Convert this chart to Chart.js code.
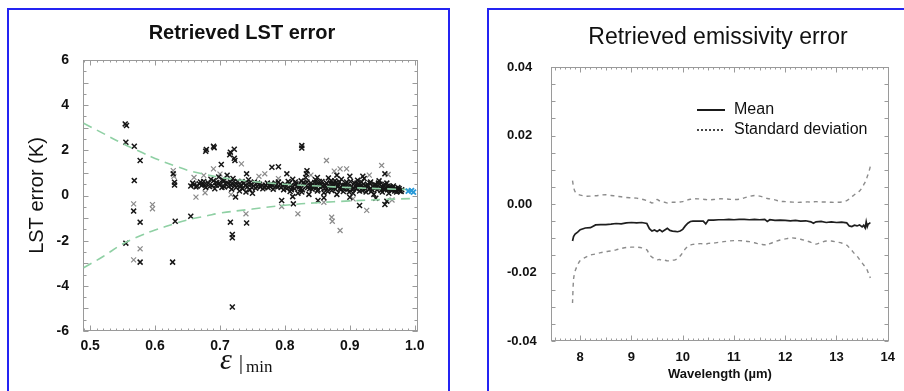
<!DOCTYPE html>
<html>
<head>
<meta charset="utf-8">
<script src="https://cdn.jsdelivr.net/npm/chart.js@4.4.1/dist/chart.umd.min.js"></script>
<style>
html, body { margin: 0; padding: 0; background: #fff; width: 904px; height: 391px; overflow: hidden; }
.panel { position: absolute; border: 2px solid #2424f2; box-sizing: border-box; }
#panelL { left: 7px; top: 8px; width: 443px; height: 400px; }
#panelR { left: 487px; top: 8px; width: 440px; height: 400px; }
canvas { position: absolute; top: 0; }
#lstChart { left: 0; }
#emisChart { left: 452px; }
</style>
</head>
<body>
<div class="panel" id="panelL"></div>
<div class="panel" id="panelR"></div>
<canvas id="lstChart" width="452" height="391"></canvas>
<canvas id="emisChart" width="452" height="391"></canvas>
<script>
Chart.defaults.font.family = "'Liberation Sans', Arial, sans-serif";
Chart.defaults.color = "#111111";
Chart.defaults.animation = false;

// ---- left panel: LST error vs minimum emissivity ----
const lstXTicks = [0.5, 0.6, 0.7, 0.8, 0.9, 1.0];

const envX = [0.49, 0.52, 0.55, 0.58, 0.6, 0.63, 0.65, 0.68, 0.7, 0.75, 0.8, 0.85, 0.9, 0.95, 1.0];
const envUpper = [3.2, 2.75, 2.3, 1.9, 1.64, 1.32, 1.12, 0.92, 0.8, 0.62, 0.5, 0.42, 0.35, 0.3, 0.25];
const envLower = [-3.2, -2.7, -2.15, -1.75, -1.53, -1.25, -1.08, -0.9, -0.78, -0.6, -0.43, -0.32, -0.24, -0.18, -0.13];

const darkMarks = [
    [0.554, 3.17], [0.556, 3.10], [0.555, 2.36], [0.568, 2.18], [0.577, 1.55], [0.568, 0.66],
    [0.567, -0.69], [0.577, -1.18], [0.555, -2.11], [0.577, -2.95], [0.628, 0.96], [0.630, 0.59],
    [0.630, 0.46], [0.631, -1.14], [0.627, -2.95], [0.655, -0.92], [0.678, 1.96], [0.679, 2.04],
    [0.690, 2.18], [0.691, 2.12], [0.702, 1.37], [0.715, 1.80], [0.716, 1.92], [0.722, 2.05],
    [0.722, 1.65], [0.723, 1.55], [0.716, -1.18], [0.719, -1.73], [0.719, -1.87], [0.719, -4.94],
    [0.724, -0.07], [0.741, 0.96], [0.741, -1.22], [0.780, 1.25], [0.790, 1.27], [0.795, -0.22],
    [0.803, 0.96], [0.813, -0.37], [0.826, 2.21], [0.826, 2.10], [0.833, 0.96], [0.834, 1.10],
    [0.851, -0.22], [0.915, -0.44], [0.954, -0.40], [0.957, -0.25], [0.954, 0.96],
    // cluster 0.65 - 0.80
    [0.655, 0.42], [0.660, 0.48], [0.663, 0.38], [0.668, 0.52], [0.672, 0.45], [0.675, 0.62],
    [0.678, 0.35], [0.682, 0.55], [0.686, 0.72], [0.688, 0.43], [0.692, 0.30], [0.695, 0.58],
    [0.698, 0.82], [0.700, 0.47], [0.703, 0.36], [0.706, 0.65], [0.708, 0.52], [0.711, 0.90],
    [0.713, 0.40], [0.716, 0.60], [0.718, 0.28], [0.720, 0.75], [0.722, 0.48], [0.725, 0.35],
    [0.727, 0.62], [0.730, 0.20], [0.732, 0.45], [0.735, 0.30], [0.737, 0.55], [0.740, 0.15],
    [0.742, 0.38], [0.744, 0.70], [0.746, 0.25], [0.748, 0.50], [0.750, 0.10], [0.752, 0.42],
    [0.755, 0.32], [0.758, 0.55], [0.762, 0.38], [0.766, 0.30], [0.770, 0.45], [0.774, 0.35],
    [0.778, 0.50], [0.782, 0.28], [0.786, 0.42], [0.790, 0.60], [0.794, 0.35], [0.798, 0.25],
    [0.800, 0.50],
    [0.658, 0.55], [0.665, 0.42], [0.670, 0.60], [0.676, 0.48], [0.684, 0.40], [0.690, 0.65],
    [0.694, 0.45], [0.699, 0.55], [0.704, 0.70], [0.707, 0.38], [0.712, 0.55], [0.717, 0.45],
    [0.721, 0.62], [0.726, 0.50], [0.731, 0.38], [0.734, 0.62], [0.739, 0.45], [0.745, 0.55],
    [0.749, 0.35], [0.753, 0.60], [0.757, 0.40], [0.761, 0.50], [0.765, 0.45], [0.769, 0.35],
    [0.773, 0.55], [0.777, 0.40], [0.781, 0.45], [0.785, 0.55], [0.789, 0.38], [0.793, 0.50],
    [0.797, 0.42],
    // cluster 0.80 - 0.98
    [0.803, 0.30], [0.805, 0.62], [0.808, 0.18], [0.810, 0.45], [0.812, 0.72], [0.815, 0.30],
    [0.817, 0.52], [0.820, 0.10], [0.822, 0.38], [0.825, 0.65], [0.827, 0.25], [0.830, 0.48],
    [0.832, 0.80], [0.835, 0.35], [0.837, 0.05], [0.840, 0.55], [0.842, 0.28], [0.845, 0.42],
    [0.847, 0.70], [0.850, 0.20], [0.852, 0.50], [0.855, 0.35], [0.857, 0.62], [0.860, 0.12],
    [0.862, 0.45], [0.865, 0.30], [0.867, 0.78], [0.870, 0.55], [0.872, 0.22], [0.875, 0.40],
    [0.877, 0.65], [0.880, 0.05], [0.882, 0.50], [0.885, 0.32], [0.887, 0.72], [0.890, 0.18],
    [0.892, 0.45], [0.895, 0.60], [0.897, 0.28], [0.900, 0.85], [0.902, 0.40], [0.905, 0.10],
    [0.907, 0.55], [0.910, 0.30], [0.912, 0.68], [0.915, 0.20], [0.917, 0.45], [0.920, 0.35],
    [0.922, 0.75], [0.925, 0.15], [0.927, 0.50], [0.930, 0.28], [0.932, 0.60], [0.935, 0.40],
    [0.937, 0.05], [0.940, 0.48], [0.942, 0.25], [0.945, 0.65], [0.947, 0.35], [0.950, 0.15],
    [0.952, 0.45], [0.955, 0.28], [0.957, 0.55], [0.960, 0.10], [0.962, 0.38], [0.965, 0.22],
    [0.967, 0.42], [0.970, 0.30], [0.972, 0.15], [0.975, 0.28], [0.977, 0.20], [0.980, 0.25],
    [0.810, 0.25], [0.818, 0.40], [0.826, 0.15], [0.834, 0.60], [0.843, 0.38], [0.851, 0.25],
    [0.858, 0.42], [0.866, 0.18], [0.873, 0.35], [0.879, 0.58], [0.886, 0.25], [0.893, 0.38],
    [0.899, 0.15], [0.906, 0.32], [0.913, 0.48], [0.919, 0.22], [0.926, 0.40], [0.933, 0.18],
    [0.939, 0.32], [0.946, 0.50], [0.953, 0.30], [0.959, 0.42], [0.964, 0.30], [0.969, 0.20],
    [0.974, 0.35], [0.812, -0.05], [0.860, -0.10], [0.900, -0.08], [0.940, -0.12], [0.880, 0.90],
    [0.920, 0.85], [0.850, 0.80],
    [0.802, 0.42], [0.807, 0.55], [0.811, 0.35], [0.816, 0.60], [0.821, 0.48], [0.824, 0.30],
    [0.829, 0.58], [0.833, 0.42], [0.838, 0.30], [0.841, 0.45], [0.846, 0.58], [0.849, 0.35],
    [0.853, 0.62], [0.856, 0.48], [0.861, 0.30], [0.864, 0.55], [0.868, 0.40], [0.871, 0.65],
    [0.874, 0.50], [0.878, 0.28], [0.881, 0.42], [0.884, 0.60], [0.888, 0.45], [0.891, 0.30],
    [0.894, 0.52], [0.898, 0.40], [0.901, 0.62], [0.904, 0.25], [0.908, 0.42], [0.911, 0.55],
    [0.914, 0.35], [0.918, 0.60], [0.921, 0.50], [0.924, 0.30], [0.928, 0.42], [0.931, 0.55],
    [0.934, 0.25], [0.938, 0.48], [0.941, 0.38], [0.944, 0.55], [0.948, 0.22], [0.951, 0.35],
    [0.954, 0.50], [0.958, 0.25], [0.961, 0.30], [0.966, 0.35], [0.971, 0.25], [0.976, 0.30],
    [0.979, 0.18]
];

const lightMarks = [
    [0.567, -0.37], [0.577, -2.36], [0.567, -2.85], [0.596, -0.40], [0.596, -0.59], [0.628, 1.10],
    [0.629, 0.85], [0.663, -0.07], [0.677, 0.12], [0.690, 1.18], [0.675, 0.89], [0.740, -0.81],
    [0.769, 0.96], [0.795, -0.49], [0.820, -0.81], [0.864, 1.55], [0.872, -0.96], [0.873, -1.14],
    [0.876, 1.08], [0.885, 1.18], [0.895, 1.18], [0.885, -1.55], [0.926, -0.66], [0.949, 1.33],
    [0.959, 0.93], [0.717, 0.04], [0.733, 1.40], [0.700, 0.95], [0.760, 0.85], [0.840, 0.90],
    [0.930, 0.90], [0.905, -0.15], [0.965, -0.20], [0.860, -0.30], [0.790, 0.75], [0.660, 0.80]
];

const blueMarks = [[0.990, 0.19], [0.998, 0.15], [0.995, 0.22]];

// ---- right panel: emissivity error spectrum ----
const emisXTicks = [8, 9, 10, 11, 12, 13, 14];
const emisYTicks = [-0.04, -0.02, 0, 0.02, 0.04];

const wavelengths = [
    7.85, 7.87, 7.9, 7.95, 8.0, 8.1, 8.2, 8.3, 8.4, 8.5, 8.6, 8.7, 8.8, 8.9, 9.0, 9.1, 9.2, 9.3,
    9.35, 9.4, 9.45, 9.5, 9.55, 9.6, 9.65, 9.7, 9.75, 9.8, 9.85, 9.9, 9.95, 10.0, 10.05, 10.1,
    10.15, 10.2, 10.3, 10.4, 10.45, 10.5, 10.6, 10.7, 10.8, 10.9, 11.0, 11.1, 11.2, 11.3, 11.4,
    11.5, 11.6, 11.65, 11.7, 11.8, 11.9, 12.0, 12.1, 12.2, 12.3, 12.4, 12.5, 12.55, 12.6, 12.7,
    12.8, 12.9, 13.0, 13.1, 13.2, 13.25, 13.3, 13.35, 13.4, 13.45, 13.5, 13.53, 13.56, 13.58,
    13.6, 13.62, 13.64, 13.66
];

const meanErr = [
    -0.0108, -0.0095, -0.0088, -0.0082, -0.0075, -0.0070, -0.0069, -0.0061, -0.0060, -0.0060,
    -0.0059, -0.0057, -0.0058, -0.0055, -0.0054, -0.0055, -0.0054, -0.0057, -0.0072, -0.0079,
    -0.0076, -0.0080, -0.0075, -0.0081, -0.0076, -0.0071, -0.0077, -0.0079, -0.0080, -0.0081,
    -0.0079, -0.0074, -0.0064, -0.0056, -0.0051, -0.0050, -0.0050, -0.0050, -0.0058, -0.0047,
    -0.0047, -0.0046, -0.0046, -0.0045, -0.0046, -0.0045, -0.0045, -0.0046, -0.0045, -0.0046,
    -0.0045, -0.0051, -0.0046, -0.0048, -0.0047, -0.0048, -0.0049, -0.0048, -0.0050, -0.0049,
    -0.0052, -0.0056, -0.0052, -0.0051, -0.0054, -0.0052, -0.0054, -0.0053, -0.0055, -0.0064,
    -0.0066, -0.0062, -0.0064, -0.0061, -0.0067, -0.0062, -0.0070, -0.0052, -0.0066, -0.0058,
    -0.0057, -0.0054
];

const stdUpper = [
    0.0068, 0.0050, 0.0036, 0.0029, 0.0026, 0.0023, 0.0023, 0.0024, 0.0026, 0.0027,
    0.0025, 0.0023, 0.0021, 0.0019, 0.0018, 0.0017, 0.0014, 0.0010, 0.0007, 0.0003,
    0.0006, 0.0013, 0.0009, 0.0006, 0.0005, 0.0003, 0.0004, 0.0005, 0.0005, 0.0005,
    0.0006, 0.0007, 0.0009, 0.0012, 0.0014, 0.0015, 0.0015, 0.0014, 0.0013, 0.0012,
    0.0013, 0.0015, 0.0015, 0.0014, 0.0013, 0.0014, 0.0018, 0.0022, 0.0025, 0.0023,
    0.0019, 0.0016, 0.0015, 0.0012, 0.0008, 0.0007, 0.0006, 0.0005, 0.0005, 0.0006,
    0.0006, 0.0006, 0.0007, 0.0006, 0.0006, 0.0005, 0.0005, 0.0006, 0.0010, 0.0015,
    0.0021, 0.0027, 0.0032, 0.0038, 0.0048, 0.0056, 0.0064, 0.0070, 0.0080, 0.0088,
    0.0098, 0.0110
];

const stdLower = [
    -0.0289, -0.0220, -0.0196, -0.0178, -0.0165, -0.0156, -0.0149, -0.0146, -0.0142, -0.0139,
    -0.0137, -0.0134, -0.0130, -0.0127, -0.0126, -0.0126, -0.0128, -0.0134, -0.0148, -0.0155,
    -0.0160, -0.0163, -0.0162, -0.0165, -0.0164, -0.0166, -0.0165, -0.0164, -0.0163, -0.0159,
    -0.0152, -0.0142, -0.0131, -0.0124, -0.0120, -0.0118, -0.0116, -0.0116, -0.0117, -0.0115,
    -0.0114, -0.0112, -0.0110, -0.0108, -0.0107, -0.0107, -0.0108, -0.0110, -0.0113, -0.0117,
    -0.0119, -0.0121, -0.0116, -0.0110, -0.0105, -0.0102, -0.0099, -0.0100, -0.0103, -0.0107,
    -0.0112, -0.0116, -0.0117, -0.0112, -0.0108, -0.0108, -0.0111, -0.0114, -0.0120, -0.0128,
    -0.0136, -0.0145, -0.0152, -0.0162, -0.0172, -0.0178, -0.0183, -0.0187, -0.0193, -0.0201,
    -0.0208, -0.0216
];

function toPoints(xs, ys) {
    return xs.map((x, i) => ({ x: x, y: ys[i] }));
}

function pairsToPoints(pairs) {
    return pairs.map(p => ({ x: p[0], y: p[1] }));
}

function fixedTicks(values) {
    return function(axis) {
        axis.ticks = values.map(v => ({ value: v }));
    };
}

// frame, inward tick marks, free text and the little legend
const decorPlugin = {
    id: "decor",
    beforeDatasetsDraw(chart, args, opts) {
        const { ctx, chartArea: a, scales: { x, y } } = chart;
        ctx.save();
        ctx.strokeStyle = opts.frameColor;
        ctx.lineWidth = 1;
        const L = Math.round(a.left) + 0.5, R = Math.round(a.right) - 0.5;
        const T = Math.round(a.top) + 0.5, B = Math.round(a.bottom) - 0.5;
        ctx.strokeRect(L, T, R - L, B - T);
        ctx.beginPath();
        opts.xMarks.forEach(([step, len]) => {
            const n0 = Math.ceil(x.min / step - 1e-6), n1 = Math.floor(x.max / step + 1e-6);
            for (let n = n0; n <= n1; n++) {
                const px = Math.round(x.getPixelForValue(n * step)) + 0.5;
                ctx.moveTo(px, B); ctx.lineTo(px, B - len);
                ctx.moveTo(px, T); ctx.lineTo(px, T + len);
            }
        });
        opts.yMarks.forEach(([step, len]) => {
            const n0 = Math.ceil(y.min / step - 1e-6), n1 = Math.floor(y.max / step + 1e-6);
            for (let n = n0; n <= n1; n++) {
                const py = Math.round(y.getPixelForValue(n * step)) + 0.5;
                ctx.moveTo(L, py); ctx.lineTo(L + len, py);
                ctx.moveTo(R, py); ctx.lineTo(R - len, py);
            }
        });
        ctx.stroke();
        ctx.restore();
    },
    afterDraw(chart, args, opts) {
        const ctx = chart.ctx;
        ctx.save();
        (opts.texts || []).forEach(t => {
            ctx.font = t.font;
            ctx.fillStyle = t.color || "#111";
            ctx.textAlign = t.align || "center";
            ctx.textBaseline = t.baseline || "middle";
            ctx.fillText(t.text, t.x, t.y);
        });
        const lg = opts.legend;
        if (lg) {
            lg.items.forEach((item, i) => {
                const yy = lg.y + i * lg.dy;
                ctx.beginPath();
                ctx.setLineDash(item.dash);
                ctx.strokeStyle = "#1a1a1a";
                ctx.lineWidth = item.width;
                ctx.moveTo(lg.x, yy);
                ctx.lineTo(lg.x + lg.len, yy);
                ctx.stroke();
                ctx.setLineDash([]);
                ctx.font = lg.font;
                ctx.fillStyle = "#111";
                ctx.textAlign = "left";
                ctx.textBaseline = "middle";
                ctx.fillText(chart.data.datasets[item.ds].label, lg.x + lg.len + 9, yy);
            });
        }
        ctx.restore();
    }
};

function renderLstChart() {
    const canvas = document.getElementById("lstChart");
    new Chart(canvas, {
        type: "scatter",
        data: {
            datasets: [
                {
                    label: "Upper bound",
                    data: toPoints(envX, envUpper),
                    showLine: true,
                    borderColor: "#8fd0a4",
                    borderDash: [9, 6],
                    borderWidth: 1.6,
                    tension: 0.4,
                    pointRadius: 0,
                    order: 1
                },
                {
                    label: "Lower bound",
                    data: toPoints(envX, envLower),
                    showLine: true,
                    borderColor: "#8fd0a4",
                    borderDash: [9, 6],
                    borderWidth: 1.6,
                    tension: 0.4,
                    pointRadius: 0,
                    order: 1
                },
                {
                    label: "Light",
                    data: pairsToPoints(lightMarks),
                    pointStyle: "crossRot",
                    pointRadius: 3.5,
                    borderColor: "#8a8a8a",
                    borderWidth: 1.2,
                    order: 3
                },
                {
                    label: "Dark",
                    data: pairsToPoints(darkMarks),
                    pointStyle: "crossRot",
                    pointRadius: 3.5,
                    borderColor: "#161616",
                    borderWidth: 1.5,
                    order: 2
                },
                {
                    label: "Blue",
                    data: pairsToPoints(blueMarks),
                    pointStyle: "crossRot",
                    pointRadius: 3.5,
                    borderColor: "#2a9ad8",
                    borderWidth: 1.8,
                    order: 0
                }
            ]
        },
        options: {
            responsive: false,
            devicePixelRatio: 1,
            layout: { padding: { top: 60, left: 0, right: 34, bottom: 0 } },
            plugins: {
                legend: { display: false },
                tooltip: { enabled: false },
                decor: {
                    frameColor: "#9a9a9a",
                    xMarks: [[0.01, 2], [0.1, 5]],
                    yMarks: [[0.5, 3], [1, 5]],
                    texts: [
                        { text: "Retrieved LST error", x: 242, y: 33, font: "bold 20px 'Liberation Sans', Arial" },
                        { text: "\u03b5", x: 226, y: 369, baseline: "alphabetic", font: "italic 30px 'Liberation Serif', 'Times New Roman', serif" },
                        { text: "|", x: 241, y: 369, baseline: "alphabetic", font: "22px 'Liberation Serif', 'Times New Roman', serif" },
                        { text: "min", x: 246, y: 372, align: "left", baseline: "alphabetic", font: "17px 'Liberation Serif', 'Times New Roman', serif" }
                    ]
                }
            },
            scales: {
                x: {
                    type: "linear",
                    min: 0.489,
                    max: 1.005,
                    afterBuildTicks: fixedTicks(lstXTicks),
                    afterFit: s => { s.height = 60; },
                    grid: { display: false, drawTicks: false },
                    border: { display: false },
                    ticks: {
                        autoSkip: false,
                        maxRotation: 0,
                        padding: 7,
                        color: "#111",
                        font: { size: 14, weight: "bold" },
                        callback: v => Number(v).toFixed(1)
                    }
                },
                y: {
                    min: -6,
                    max: 6,
                    ticks: {
                        stepSize: 2,
                        padding: 14,
                        color: "#111",
                        font: { size: 14, weight: "bold" },
                        callback: v => String(v)
                    },
                    afterFit: s => { s.width = 83; },
                    grid: { display: false, drawTicks: false },
                    border: { display: false },
                    title: {
                        display: true,
                        text: "LST error (K)",
                        color: "#111",
                        font: { size: 20 },
                        padding: { top: 25, bottom: 0 }
                    }
                }
            }
        },
        plugins: [decorPlugin]
    });
}

function renderEmisChart() {
    const canvas = document.getElementById("emisChart");
    new Chart(canvas, {
        type: "line",
        data: {
            datasets: [
                {
                    label: "Mean",
                    data: toPoints(wavelengths, meanErr),
                    borderColor: "#1e1e1e",
                    borderWidth: 1.7,
                    pointRadius: 0,
                    tension: 0
                },
                {
                    label: "Standard deviation",
                    data: toPoints(wavelengths, stdUpper),
                    borderColor: "#8c8c8c",
                    borderDash: [4, 4],
                    borderWidth: 1.4,
                    pointRadius: 0,
                    tension: 0.3
                },
                {
                    label: "Standard deviation",
                    data: toPoints(wavelengths, stdLower),
                    borderColor: "#8c8c8c",
                    borderDash: [4, 4],
                    borderWidth: 1.4,
                    pointRadius: 0,
                    tension: 0.3
                }
            ]
        },
        options: {
            responsive: false,
            devicePixelRatio: 1,
            layout: { padding: { top: 67, left: 55, right: 9, bottom: 0 } },
            plugins: {
                legend: { display: false },
                tooltip: { enabled: false },
                decor: {
                    frameColor: "#9a9a9a",
                    xMarks: [[0.1, 2], [0.5, 3], [1, 5]],
                    yMarks: [[0.005, 4]],
                    texts: [
                        { text: "Retrieved emissivity error", x: 266, y: 38, font: "23px 'Liberation Sans', Arial" }
                    ],
                    legend: {
                        x: 245, y: 110, dy: 20, len: 28,
                        font: "16px 'Liberation Sans', Arial",
                        items: [
                            { ds: 0, dash: [], width: 2 },
                            { ds: 1, dash: [2, 2], width: 1.6 }
                        ]
                    }
                }
            },
            scales: {
                x: {
                    type: "linear",
                    min: 7.43,
                    max: 14.02,
                    afterBuildTicks: fixedTicks(emisXTicks),
                    afterFit: s => { s.height = 50; },
                    grid: { display: false, drawTicks: false },
                    border: { display: false },
                    ticks: {
                        autoSkip: false,
                        maxRotation: 0,
                        padding: 9,
                        color: "#111",
                        font: { size: 13, weight: "bold" },
                        callback: v => String(v)
                    },
                    title: {
                        display: true,
                        text: "Wavelength (\u00b5m)",
                        color: "#111",
                        font: { size: 13, weight: "bold" },
                        padding: { top: 0, bottom: 9 }
                    }
                },
                y: {
                    min: -0.04,
                    max: 0.04,
                    afterBuildTicks: fixedTicks(emisYTicks),
                    afterFit: s => { s.width = 44; },
                    grid: { display: false, drawTicks: false },
                    border: { display: false },
                    ticks: {
                        crossAlign: "far",
                        padding: 19,
                        color: "#111",
                        font: { size: 13, weight: "bold" },
                        callback: v => Number(v).toFixed(2)
                    }
                }
            }
        },
        plugins: [decorPlugin]
    });
}

window.addEventListener("DOMContentLoaded", () => {
    renderLstChart();
    renderEmisChart();
});
</script>
</body>
</html>
